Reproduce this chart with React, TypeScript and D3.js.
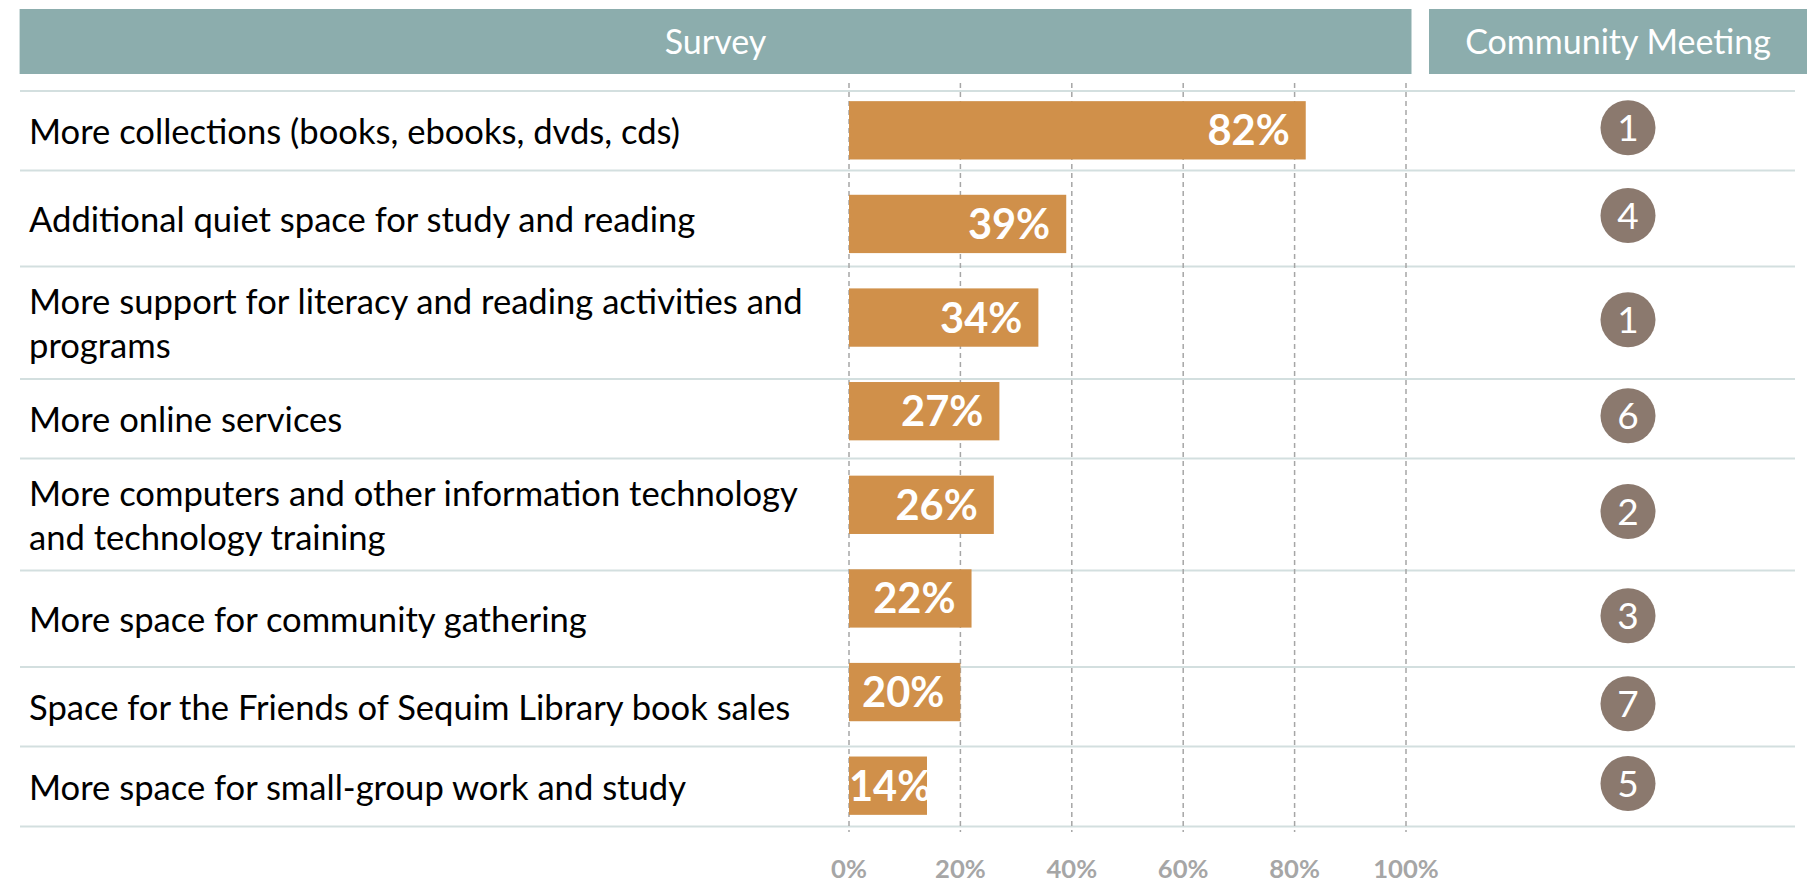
import React from "react";
import * as d3 from "d3";

// ---------- data ----------
const categories: string[] = [
  "More collections (books, ebooks, dvds, cds)",
  "Additional quiet space for study and reading",
  "More support for literacy and reading activities and\nprograms",
  "More online services",
  "More computers and other information technology\nand technology training",
  "More space for community gathering",
  "Space for the Friends of Sequim Library book sales",
  "More space for small-group work and study",
];
const surveyValues: number[] = [82, 39, 34, 27, 26, 22, 20, 14];
const meetingRanks: number[] = [1, 4, 1, 6, 2, 3, 7, 5];
const xTicks: number[] = [0, 20, 40, 60, 80, 100];
const headers: string[] = ["Survey", "Community Meeting"];

// ---------- layout ----------
const W = 1807;
const H = 883;
const FONT = "Lato, 'Open Sans', sans-serif";
const rowHeights = [79.5, 96, 112.5, 79.5, 112, 96.5, 79.5, 80];
const tableTop = 91;

const C = {
  header: "#8cadad",
  bar: "#d0904a",
  circle: "#8b796e",
  rowLine: "#d3dfdf",
  grid: "#a6a6a6",
  tick: "#a6a6a6",
  text: "#000000",
};

function measure(text: string, font: string): number {
  const cv = document.createElement("canvas");
  const ctx = cv.getContext("2d");
  if (!ctx) return text.length * 20;
  ctx.font = font;
  return ctx.measureText(text).width;
}

export default function App() {
  const x = d3.scaleLinear().domain([0, 100]).range([849, 1406]);
  const y = d3
    .scaleBand<string>()
    .domain(categories)
    .range([83.5, 832.5])
    .paddingInner(0.377)
    .paddingOuter(0.1885);

  const rowEdges: number[] = [tableTop];
  rowHeights.forEach((h, i) => rowEdges.push(rowEdges[i] + h));

  const labelFS = 34.6;
  const lineH = 44;
  const capH = labelFS * 0.72;
  const valFS = 41.6;
  const rankFS = 37;
  const circleX = 1628;
  const headFS = 34;

  return (
    <svg
      width={W}
      height={H}
      style={{ position: "absolute", left: 0, top: 0, display: "block" }}
      fontFamily={FONT}
    >
      <rect width={W} height={H} fill="#fff" />
      {/* header */}
      <rect x={19.6} y={9} width={1411.5 - 19.6} height={65} fill={C.header} />
      <rect x={1429} y={9} width={W - 1429} height={65} fill={C.header} />
      <text x={(19.6 + 1411.5) / 2} y={53.5} textAnchor="middle" fill="#fff" fontSize={headFS}>
        {headers[0]}
      </text>
      <text x={(1429 + W) / 2} y={53.5} textAnchor="middle" fill="#fff" fontSize={headFS}>
        {headers[1]}
      </text>

      {/* row separators */}
      {rowEdges.map((ry, i) => (
        <line key={"r" + i} x1={20} x2={1795} y1={ry} y2={ry} stroke={C.rowLine} strokeWidth={2} />
      ))}

      {/* gridlines */}
      {xTicks.map((t) => (
        <line
          key={"g" + t}
          x1={x(t)}
          x2={x(t)}
          y1={83}
          y2={832}
          stroke={C.grid}
          strokeWidth={1.5}
          strokeDasharray="5,4"
        />
      ))}

      {/* bars */}
      {categories.map((c, i) => {
        const v = surveyValues[i];
        const by = y(c) as number;
        const bh = y.bandwidth();
        const label = `${v}%`;
        const lw = measure(label, `bold ${valFS}px Lato`);
        const xr = Math.max(x(v) - 16, x(0) + lw);
        return (
          <g key={"b" + i}>
            <rect x={x(0)} y={by} width={x(v) - x(0)} height={bh} fill={C.bar} />
            <text
              x={xr}
              y={by + bh / 2 + valFS * 0.36}
              textAnchor="end"
              fill="#fff"
              fontWeight={700}
              fontSize={valFS}
            >
              {label}
            </text>
          </g>
        );
      })}

      {/* category labels & ranks */}
      {categories.map((c, i) => {
        const lines = c.split("\n");
        const cy = (rowEdges[i] + rowEdges[i + 1]) / 2;
        const firstBase = cy + 1 - ((lines.length - 1) * lineH) / 2 + capH / 2;
        return (
          <g key={"l" + i}>
            <text x={29} y={firstBase} fontSize={labelFS} fill={C.text}>
              {lines.map((ln, j) => (
                <tspan key={j} x={29} y={firstBase + j * lineH}>
                  {ln}
                </tspan>
              ))}
            </text>
            <circle cx={circleX} cy={cy - 3} r={27.5} fill={C.circle} />
            <text
              x={circleX}
              y={cy - 3 + rankFS * 0.36}
              textAnchor="middle"
              fill="#fff"
              fontSize={rankFS}
            >
              {meetingRanks[i]}
            </text>
          </g>
        );
      })}

      {/* x tick labels */}
      {xTicks.map((t) => (
        <text
          key={"t" + t}
          x={x(t)}
          y={878}
          textAnchor="middle"
          fill={C.tick}
          fontWeight={700}
          fontSize={25.6}
        >
          {`${t}%`}
        </text>
      ))}
    </svg>
  );
}
